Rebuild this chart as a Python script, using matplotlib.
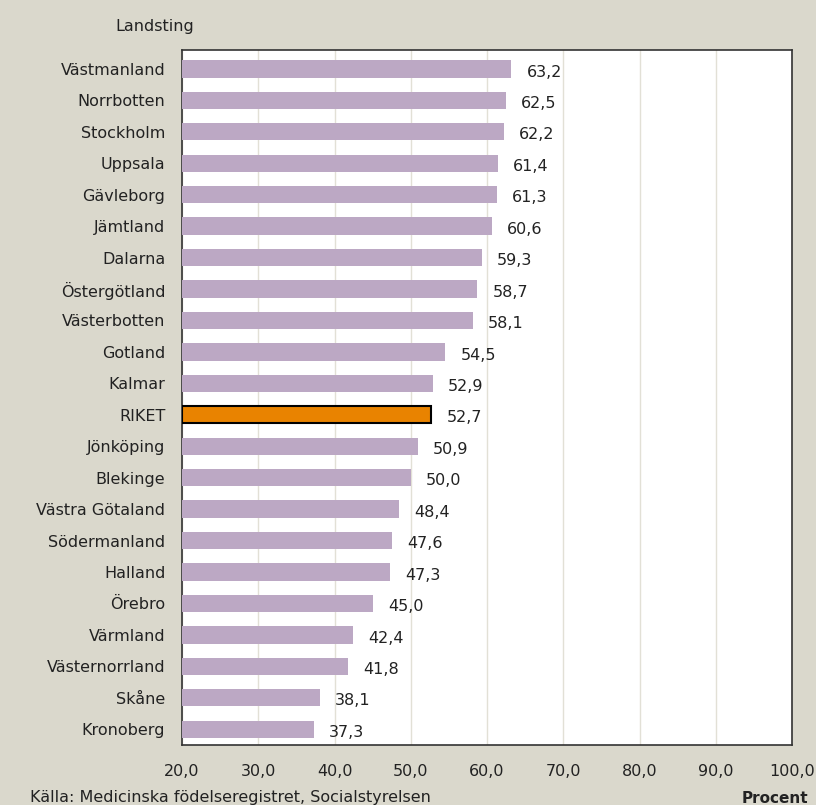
import matplotlib.pyplot as plt

regions = ['Västmanland', 'Norrbotten', 'Stockholm', 'Uppsala', 'Gävleborg', 'Jämtland',
           'Dalarna', 'Östergötland', 'Västerbotten', 'Gotland', 'Kalmar', 'RIKET',
           'Jönköping', 'Blekinge', 'Västra Götaland', 'Södermanland', 'Halland',
           'Örebro', 'Värmland', 'Västernorrland', 'Skåne', 'Kronoberg']
values = [63.2, 62.5, 62.2, 61.4, 61.3, 60.6, 59.3, 58.7, 58.1, 54.5, 52.9, 52.7,
          50.9, 50.0, 48.4, 47.6, 47.3, 45.0, 42.4, 41.8, 38.1, 37.3]
xticks = [20, 30, 40, 50, 60, 70, 80, 90, 100]

bg = '#DAD8CC'
txt = '#222222'
fs = 11.5
plt.rcParams['font.family'] = ['DejaVu Sans']

fig = plt.figure(figsize=(8.16, 8.05), dpi=100, facecolor=bg)
ax = fig.add_axes([182/816, 1 - 745/805, (792-182)/816, (745-50)/805])

y = list(range(len(regions)))
colors = ['#E98300' if r == 'RIKET' else '#BCA8C4' for r in regions]
edges = ['black' if r == 'RIKET' else '#BCA8C4' for r in regions]
widths = [1.5 if r == 'RIKET' else 0 for r in regions]
ax.barh(y, [v - 20 for v in values], left=20, height=0.55, color=colors,
        edgecolor=edges, linewidth=widths, zorder=3)

for yi, v in zip(y, values):
    ax.text(v + 2.0, yi + 0.1, f'{v:.1f}'.replace('.', ','), va='center', ha='left',
            fontsize=fs, color=txt)

ax.set_xlim(20, 100)
ax.set_ylim(len(regions) - 0.5, -0.6)
ax.set_xticks(xticks)
ax.set_xticklabels([f'{t:.1f}'.replace('.', ',') for t in xticks], fontsize=fs, color=txt)
ax.set_yticks(y)
ax.set_yticklabels(regions, fontsize=fs, color=txt)
ax.tick_params(length=0, pad=12)
ax.tick_params(axis='x', pad=14)
ax.grid(axis='x', color='#E2E0D6', linewidth=1, zorder=0)
for s in ax.spines.values():
    s.set_color('#333333')
    s.set_linewidth(1.2)

fig.text(155/816, 1 - 27/805, 'Landsting', ha='center', va='center', fontsize=fs, color=txt)
fig.text(30/816, 1 - 797/805, 'Källa: Medicinska födelseregistret, Socialstyrelsen',
         ha='left', va='center', fontsize=fs, color=txt)
fig.text(808/816, 1 - 798/805, 'Procent', ha='right', va='center', fontsize=11,
         fontweight='bold', color=txt)

fig.savefig('out.png', dpi=100, facecolor=bg)
